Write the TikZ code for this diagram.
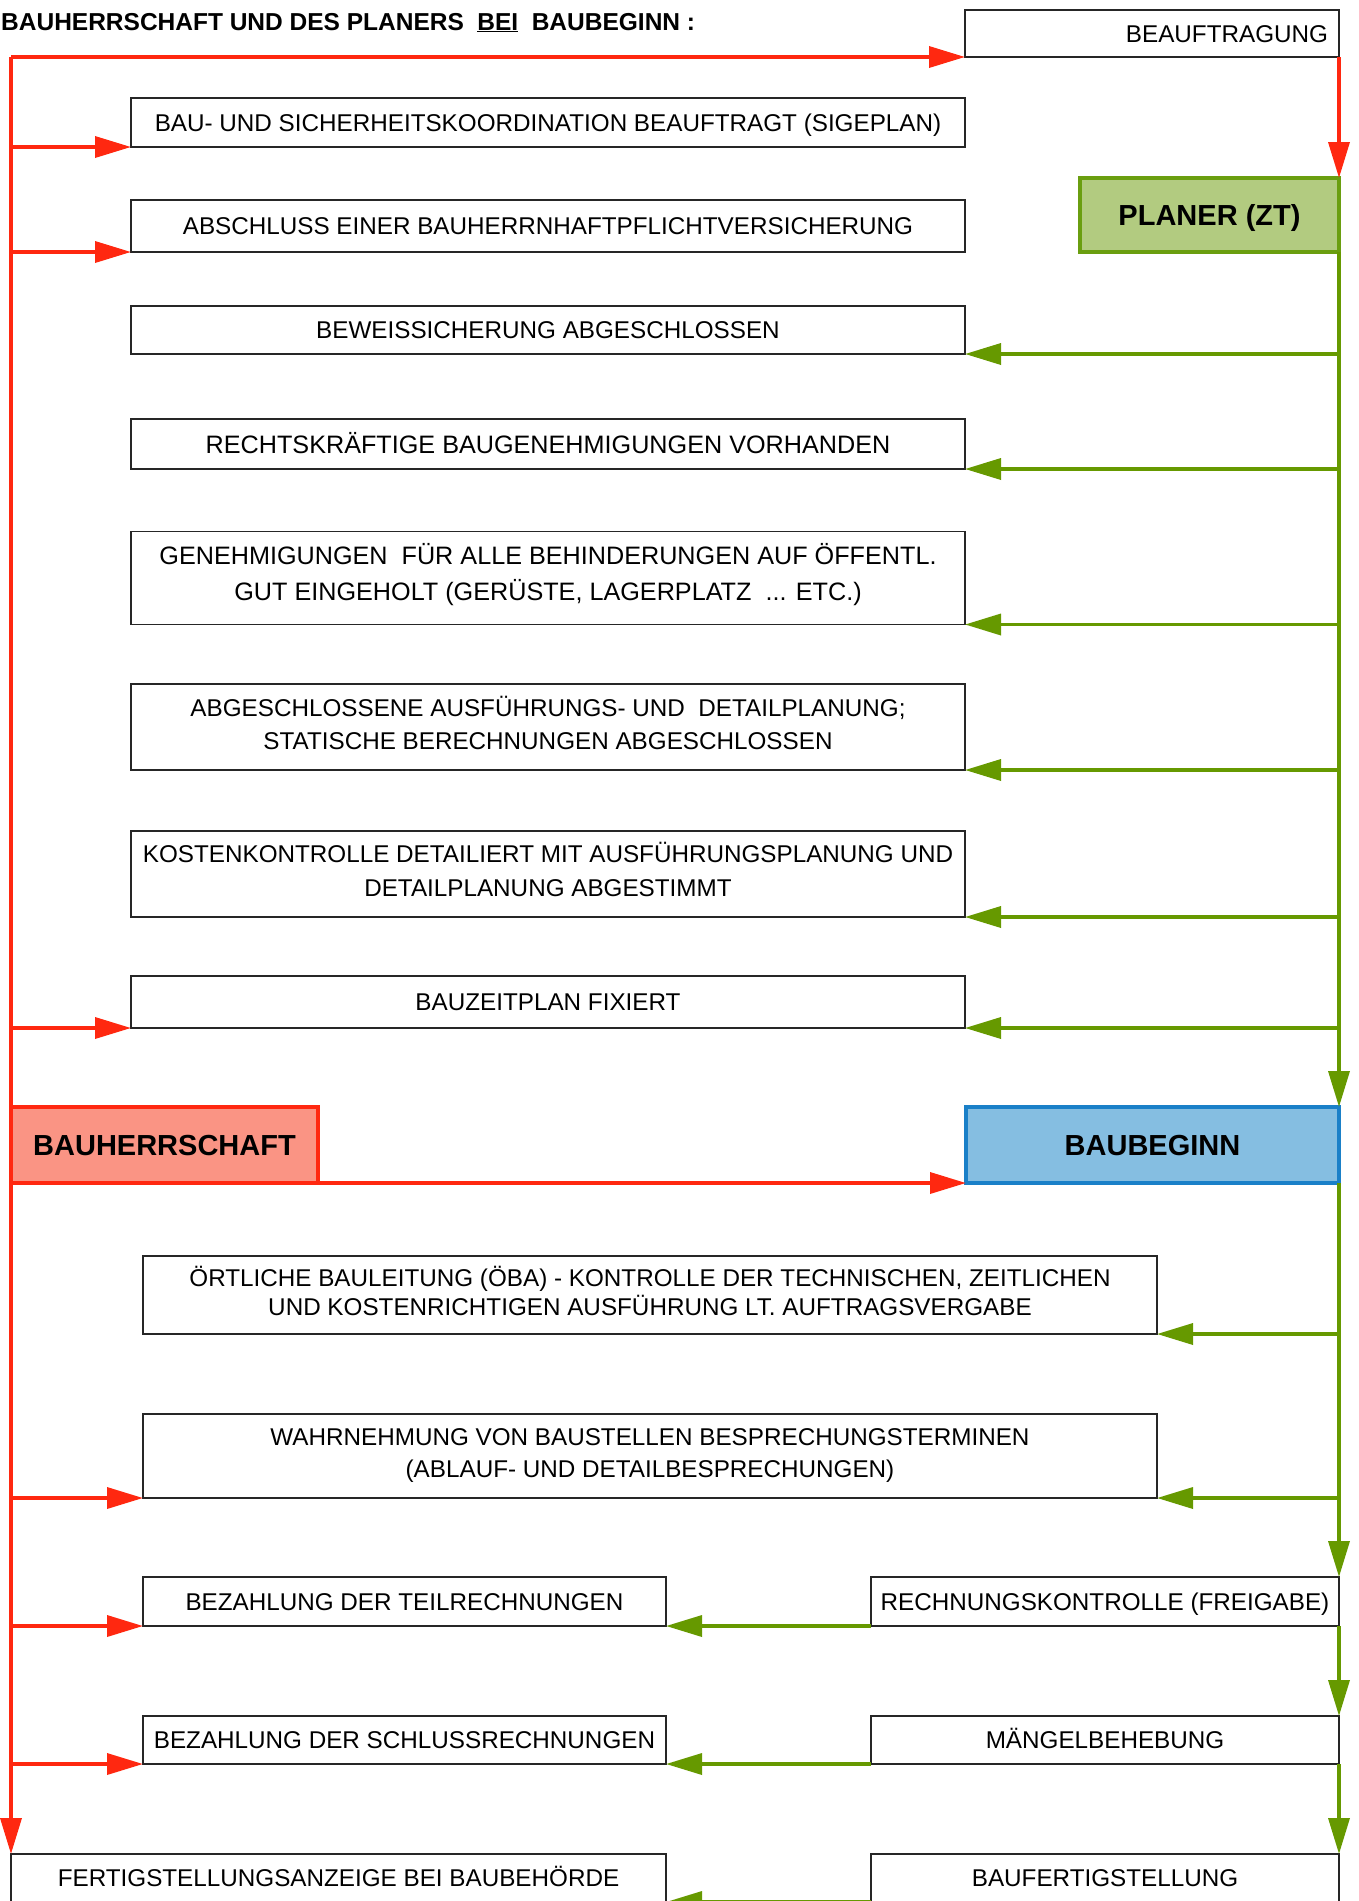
\documentclass[tikz,border=0pt]{standalone}
\usepackage{fontspec}
\setmainfont{Liberation Sans}
\usepackage{xcolor}
\usetikzlibrary{arrows.meta}

\definecolor{linered}{RGB}{255,40,16}
\definecolor{linegreen}{RGB}{102,153,0}
\definecolor{planerfill}{RGB}{178,203,128}
\definecolor{planerdraw}{RGB}{106,158,16}
\definecolor{herrfill}{RGB}{250,148,132}
\definecolor{beginnfill}{RGB}{133,190,225}
\definecolor{beginndraw}{RGB}{26,128,200}

% zweizeiliger text, etwas angehoben
\newcommand{\zeilen}[2][0pt]{\raisebox{#1}[\height][\depth]{\begin{tabular}{@{}c@{}}#2\end{tabular}}}

\begin{document}
\begin{tikzpicture}[x=1pt, y=-1pt,
	kasten/.style={draw=black!85, line width=1.5pt, inner sep=0pt, outer sep=0pt, align=center,
		font=\fontsize{24.25}{33}\selectfont},
	einzeilig/.style={kasten, text height=17.4pt, text depth=0pt},
	rolle/.style={line width=4pt, inner sep=0pt, outer sep=0pt, text height=20.8pt, text depth=0pt,
		font=\fontsize{29}{34}\selectfont\bfseries},
	rot/.style={draw=linered, line width=3.5pt, -{Triangle[length=36pt, width=21pt]}},
	gruen/.style={draw=linegreen, line width=3.5pt, -{Triangle[length=36pt, width=21pt]}}]
	\useasboundingbox (0,0) rectangle (1358,1901);
	\clip (0,0) rectangle (1358,1901);

	\node[anchor=base west, inner sep=0pt, font=\fontsize{24.5}{28}\selectfont\bfseries] (titel) at (1,30)
		{BAUHERRSCHAFT UND DES PLANERS\hspace{0.55em}\underline{BEI}\hspace{0.55em}BAUBEGINN :};

	% rollen
	\node[rolle, draw=planerdraw, fill=planerfill, minimum width=259pt, minimum height=74pt] (planer) at (1209.5,215) {PLANER (ZT)};
	\node[rolle, draw=linered, fill=herrfill, minimum width=307pt, minimum height=76pt] (bauherr) at (164.5,1145) {BAUHERRSCHAFT};
	\node[rolle, draw=beginndraw, fill=beginnfill, minimum width=373pt, minimum height=76pt] (baubeginn) at (1152.5,1145) {BAUBEGINN};

	% vor baubeginn
	\node[einzeilig, minimum width=374pt, minimum height=47pt, text width=352pt, align=right] (auftrag) at (1152,33.5) {BEAUFTRAGUNG};
	\node[einzeilig, minimum width=834pt, minimum height=49pt] (sige) at (548,122.5) {BAU- UND SICHERHEITSKOORDINATION BEAUFTRAGT (SIGEPLAN)};
	\node[einzeilig, minimum width=834pt, minimum height=52pt] (haftpflicht) at (548,226) {ABSCHLUSS EINER BAUHERRNHAFTPFLICHTVERSICHERUNG};
	\node[einzeilig, minimum width=834pt, minimum height=48pt] (beweis) at (548,330) {BEWEISSICHERUNG ABGESCHLOSSEN};
	\node[einzeilig, minimum width=834pt, minimum height=50pt, text height=18pt, font=\fontsize{25.2}{33}\selectfont] (genehmigung) at (548,444)
		{RECHTSKRÄFTIGE BAUGENEHMIGUNGEN VORHANDEN};
	\node[kasten, minimum width=834pt, minimum height=93pt, font=\fontsize{25.2}{36}\selectfont] (behinderung) at (548,578)
		{\zeilen[3pt]{GENEHMIGUNGEN\ \ FÜR ALLE BEHINDERUNGEN AUF ÖFFENTL.\\GUT EINGEHOLT (GERÜSTE, LAGERPLATZ\ \ ... ETC.)}};
	\node[kasten, minimum width=834pt, minimum height=86pt] (ausfplanung) at (548,727)
		{\zeilen[0.5pt]{ABGESCHLOSSENE AUSFÜHRUNGS- UND\ \ DETAILPLANUNG;\\STATISCHE BERECHNUNGEN ABGESCHLOSSEN}};
	\node[kasten, minimum width=834pt, minimum height=86pt, font=\fontsize{24.25}{34}\selectfont] (kosten) at (548,874)
		{\zeilen[1.5pt]{KOSTENKONTROLLE DETAILIERT MIT AUSFÜHRUNGSPLANUNG UND\\DETAILPLANUNG ABGESTIMMT}};
	\node[einzeilig, minimum width=834pt, minimum height=52pt] (zeitplan) at (548,1002) {BAUZEITPLAN FIXIERT};

	% nach baubeginn
	\node[kasten, minimum width=1014pt, minimum height=78pt, font=\fontsize{24.25}{29}\selectfont] (oeba) at (650,1295)
		{\zeilen{ÖRTLICHE BAULEITUNG (ÖBA) - KONTROLLE DER TECHNISCHEN, ZEITLICHEN\\UND KOSTENRICHTIGEN AUSFÜHRUNG LT. AUFTRAGSVERGABE}};
	\node[kasten, minimum width=1014pt, minimum height=84pt, font=\fontsize{24.25}{31.5}\selectfont] (besprechung) at (650,1456)
		{\zeilen[1pt]{WAHRNEHMUNG VON BAUSTELLEN BESPRECHUNGSTERMINEN\\(ABLAUF- UND DETAILBESPRECHUNGEN)}};
	\node[einzeilig, minimum width=523pt, minimum height=49pt] (teilrechnung) at (404.5,1601.5) {BEZAHLUNG DER TEILRECHNUNGEN};
	\node[einzeilig, minimum width=468pt, minimum height=49pt] (rkontrolle) at (1105,1601.5) {RECHNUNGSKONTROLLE (FREIGABE)};
	\node[einzeilig, minimum width=523pt, minimum height=48pt] (schlussrechnung) at (404.5,1740) {BEZAHLUNG DER SCHLUSSRECHNUNGEN};
	\node[einzeilig, minimum width=468pt, minimum height=48pt] (maengel) at (1105,1740) {MÄNGELBEHEBUNG};
	\node[einzeilig, minimum width=655pt, minimum height=48pt] (anzeige) at (338.5,1878) {FERTIGSTELLUNGSANZEIGE BEI BAUBEHÖRDE};
	\node[einzeilig, minimum width=468pt, minimum height=48pt] (fertig) at (1105,1878) {BAUFERTIGSTELLUNG};

	% bauherrschaft
	\coordinate (links) at (11,57);
	\draw[rot] (links) -- (auftrag.south west);
	\draw[rot] (links) -- (anzeige.north west);
	\draw[rot] (auftrag.south east) -- (planer.north east);
	\foreach \n in {sige, haftpflicht, zeitplan, besprechung, teilrechnung, schlussrechnung}
		\draw[rot] (\n.south west -| links) -- (\n.south west);
	\draw[rot] (bauherr.south east) -- (baubeginn.south west);

	% planer
	\draw[gruen] (planer.south east) -- (baubeginn.north east);
	\foreach \n in {beweis, genehmigung, behinderung, ausfplanung, kosten, zeitplan}
		\draw[gruen] (\n.south east -| planer.east) -- (\n.south east);
	\draw[gruen] (baubeginn.south east) -- (rkontrolle.north east);
	\draw[gruen] (rkontrolle.south east) -- (maengel.north east);
	\draw[gruen] (maengel.south east) -- (fertig.north east);
	\foreach \n in {oeba, besprechung}
		\draw[gruen] (\n.south east -| baubeginn.east) -- (\n.south east);
	\draw[gruen] (rkontrolle.south west) -- (teilrechnung.south east);
	\draw[gruen] (maengel.south west) -- (schlussrechnung.south east);
	\draw[gruen] (fertig.south west) -- (anzeige.south east);
\end{tikzpicture}
\end{document}
